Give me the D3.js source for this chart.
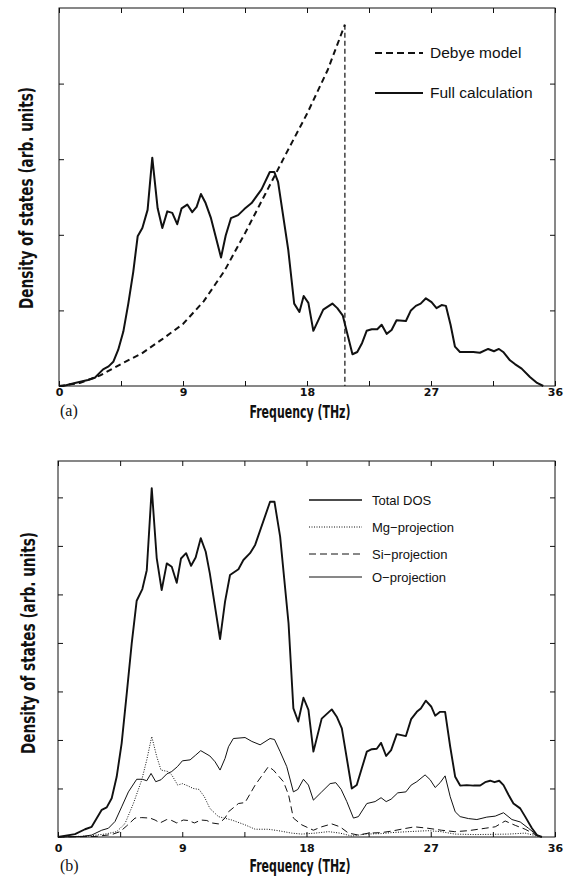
<!DOCTYPE html>
<html>
<head>
<meta charset="utf-8">
<script src="https://cdn.jsdelivr.net/npm/d3@7"></script>
<style>
  body { margin: 0; background: #fff; }
  svg { display: block; }
</style>
</head>
<body>
<div id="chart"></div>
<script>
"use strict";

// ---- data (frequency in THz, DOS in arb. units) ----
var freqTicks = [0, 4.5, 9, 13.5, 18, 22.5, 27, 31.5, 36];
var freqLabels = [0, 9, 18, 27, 36];

// panel (a)
var debyeModel = [[0, 0], [1.5, 0.04], [3, 0.14], [4.5, 0.29], [6, 0.43], [7.5, 0.62],
    [9, 0.82], [10.5, 1.12], [12, 1.52], [13.5, 2.02], [15, 2.55], [16.5, 3.08],
    [18, 3.6], [19.5, 4.18], [20.75, 4.78]];
var debyeCutoff = 20.75;

var fullCalc = [[0, 0], [0.3, 0], [1.16, 0.04], [2.1, 0.08], [2.6, 0.11], [3.2, 0.22],
    [3.6, 0.26], [3.94, 0.32], [4.3, 0.48], [4.67, 0.72], [5.03, 1.09], [5.39, 1.51],
    [5.71, 1.98], [6.05, 2.09], [6.43, 2.33], [6.77, 3.02], [7.16, 2.35], [7.5, 2.09],
    [7.86, 2.31], [8.22, 2.29], [8.58, 2.14], [8.9, 2.35], [9.31, 2.40], [9.67, 2.30],
    [9.99, 2.37], [10.3, 2.54], [10.64, 2.42], [11.03, 2.22], [11.76, 1.70], [12.1, 1.99],
    [12.48, 2.22], [13.0, 2.26], [13.45, 2.34], [13.98, 2.42], [14.7, 2.60], [15.3, 2.83],
    [15.63, 2.83], [15.9, 2.70], [16.64, 1.80], [17.07, 1.09], [17.45, 0.98], [17.76, 1.19],
    [18.1, 1.10], [18.46, 0.73], [19.18, 1.01], [19.84, 1.09], [20.2, 1.03], [20.6, 0.93],
    [21.3, 0.42], [21.65, 0.45], [22.0, 0.57], [22.33, 0.73], [22.7, 0.75], [23.1, 0.75],
    [23.42, 0.81], [23.78, 0.69], [24.14, 0.74], [24.5, 0.87], [25.18, 0.86], [25.54, 1.0],
    [25.9, 1.06], [26.25, 1.09], [26.63, 1.16], [27.04, 1.11], [27.4, 1.03], [27.77, 1.07],
    [28.08, 1.06], [28.42, 0.81], [28.74, 0.52], [29.1, 0.45], [29.6, 0.45], [30.07, 0.45],
    [30.55, 0.44], [31.15, 0.49], [31.57, 0.46], [31.93, 0.49], [32.24, 0.45], [32.73, 0.34],
    [33.09, 0.29], [33.58, 0.23], [34.18, 0.12], [34.7, 0.04], [35.15, 0]];

var legendA = ["Debye model", "Full calculation"];

// panel (b)
var totalDos = [[0, 0], [1.23, 0.06], [1.96, 0.16], [2.44, 0.21], [3.17, 0.56], [3.53, 0.61],
    [3.89, 0.80], [4.25, 1.24], [4.61, 1.93], [4.98, 2.96], [5.34, 3.99], [5.7, 4.87],
    [6.11, 5.11], [6.43, 5.5], [6.79, 7.19], [7.15, 5.75], [7.51, 5.09], [7.88, 5.64],
    [8.24, 5.57], [8.6, 5.24], [8.91, 5.74], [9.28, 5.85], [9.64, 5.59], [9.97, 5.76],
    [10.34, 6.16], [10.7, 5.88], [11.0, 5.43], [11.74, 4.08], [12.1, 4.85], [12.46, 5.4],
    [13.07, 5.52], [13.43, 5.71], [13.91, 5.85], [14.28, 6.02], [15.36, 6.91], [15.68, 6.91],
    [16.09, 6.19], [16.7, 4.4], [17.05, 2.65], [17.4, 2.38], [17.78, 2.87], [18.14, 2.62],
    [18.5, 1.76], [19.1, 2.44], [19.83, 2.63], [20.19, 2.48], [20.56, 2.24], [21.28, 1.0],
    [21.64, 1.07], [22.0, 1.41], [22.37, 1.76], [22.73, 1.81], [23.09, 1.82], [23.4, 1.94],
    [23.77, 1.67], [24.13, 1.79], [24.54, 2.12], [25.2, 2.08], [25.58, 2.43], [25.99, 2.58],
    [26.28, 2.65], [26.64, 2.81], [27.03, 2.69], [27.32, 2.5], [27.68, 2.58], [28.04, 2.58],
    [28.41, 1.86], [28.77, 1.24], [29.13, 1.06], [29.61, 1.07], [30.1, 1.06], [30.58, 1.06],
    [30.94, 1.13], [31.3, 1.16], [31.62, 1.13], [31.96, 1.16], [32.27, 1.07], [32.63, 0.87],
    [32.99, 0.69], [33.48, 0.59], [33.84, 0.42], [34.33, 0.18], [34.69, 0.04], [35.05, 0]];

var mgProj = [[0, 0], [2.2, 0.02], [3.41, 0.06], [4.25, 0.11], [4.86, 0.28], [5.46, 0.69],
    [6.07, 1.18], [6.43, 1.59], [6.79, 2.07], [7.15, 1.66], [7.46, 1.38], [7.95, 1.35],
    [8.24, 1.28], [8.67, 1.07], [9.01, 1.1], [9.44, 1.05], [9.8, 1.0], [10.22, 0.98],
    [10.6, 0.83], [11.0, 0.59], [11.62, 0.42], [12.59, 0.35], [13.55, 0.25], [14.28, 0.16],
    [15.24, 0.16], [15.96, 0.13], [16.93, 0.08], [17.66, 0.06], [18.62, 0.08], [19.59, 0.11],
    [20.43, 0.08], [21.28, 0.02], [22.25, 0.06], [23.4, 0.07], [24.14, 0.09], [25.35, 0.11],
    [26.8, 0.13], [27.77, 0.11], [28.74, 0.06], [30.2, 0.05], [32.63, 0.06], [33.84, 0.08],
    [34.69, 0.02], [35.05, 0]];

var siProj = [[0, 0], [2.68, 0.01], [3.89, 0.05], [4.49, 0.11], [4.98, 0.23], [5.58, 0.39],
    [6.07, 0.4], [6.67, 0.39], [7.03, 0.35], [7.39, 0.29], [7.88, 0.36], [8.24, 0.34],
    [8.6, 0.29], [9.08, 0.35], [9.44, 0.34], [9.88, 0.29], [10.36, 0.35], [10.78, 0.34],
    [11.14, 0.29], [11.62, 0.27], [12.1, 0.39], [12.35, 0.52], [13.07, 0.69], [13.55, 0.71],
    [14.28, 1.07], [15.24, 1.45], [15.6, 1.38], [16.33, 1.14], [16.7, 0.87], [17.05, 0.39],
    [17.66, 0.25], [18.5, 0.14], [19.1, 0.21], [19.83, 0.27], [20.43, 0.21], [21.04, 0.08],
    [21.76, 0.04], [22.49, 0.08], [23.4, 0.09], [24.14, 0.12], [24.86, 0.16], [25.83, 0.21],
    [26.8, 0.18], [27.77, 0.14], [28.74, 0.11], [29.71, 0.13], [30.94, 0.18], [31.67, 0.21],
    [32.39, 0.33], [33.12, 0.24], [33.84, 0.16], [34.69, 0.03], [35.05, 0]];

var oProj = [[0, 0], [1.7, 0.01], [2.44, 0.04], [3.17, 0.14], [3.65, 0.18], [4.13, 0.32],
    [4.61, 0.62], [5.1, 0.93], [5.7, 1.19], [6.11, 1.19], [6.43, 1.16], [6.74, 1.31],
    [7.08, 1.14], [7.46, 1.18], [7.88, 1.3], [8.24, 1.35], [8.65, 1.45], [9.01, 1.57],
    [9.57, 1.59], [9.98, 1.69], [10.34, 1.78], [11.0, 1.67], [11.38, 1.55], [11.74, 1.38],
    [12.1, 1.62], [12.35, 1.86], [12.7, 2.03], [13.55, 2.05], [14.04, 1.97], [14.64, 1.9],
    [15.36, 2.03], [15.68, 2.01], [16.09, 1.76], [16.57, 1.45], [17.05, 0.93], [17.37, 0.98],
    [17.78, 1.19], [18.14, 1.07], [18.5, 0.76], [19.1, 0.93], [19.71, 1.1], [20.12, 1.12],
    [20.51, 0.98], [20.92, 0.73], [21.4, 0.39], [21.76, 0.42], [22.37, 0.69], [22.97, 0.73],
    [23.4, 0.81], [23.77, 0.73], [24.13, 0.78], [24.61, 0.91], [25.2, 0.93], [25.58, 1.07],
    [25.99, 1.14], [26.59, 1.28], [26.96, 1.18], [27.32, 1.02], [27.68, 1.12], [28.04, 1.26],
    [28.41, 0.83], [28.77, 0.52], [29.13, 0.42], [29.73, 0.38], [30.34, 0.36], [31.06, 0.41],
    [31.67, 0.43], [32.27, 0.5], [32.88, 0.36], [33.48, 0.31], [34.08, 0.18], [34.69, 0.04],
    [35.05, 0]];

var legendB = ["Total DOS", "Mg\u2212projection", "Si\u2212projection", "O\u2212projection"];

// ---- drawing ----
var W = 565, H = 882;
var ink = "#111";
var boldNarrow = "'Liberation Sans Narrow', 'DejaVu Sans Condensed', 'Arial Narrow', sans-serif";
var tickFont = "'DejaVu Sans', sans-serif";

var svg = d3.select("#chart").append("svg")
    .attr("width", W)
    .attr("height", H);

svg.append("rect").attr("width", W).attr("height", H).attr("fill", "#fff");

function panel(spec) {
    var x = d3.scaleLinear().domain([0, 36]).range([spec.left, spec.right]);
    var y = d3.scaleLinear().domain([0, spec.ymax]).range([spec.bottom, spec.top]);
    var yTicks = d3.range(1, Math.floor(spec.ymax) + 1).filter(function (v) { return v < spec.ymax; });
    var g = svg.append("g");

    // inward ticks on all four sides
    var fmt = function (d) { return freqLabels.indexOf(d) >= 0 ? d : ""; };
    var ax = [
        d3.axisBottom(x).tickValues(freqTicks).tickSize(-5).tickPadding(spec.tickPad).tickFormat(fmt),
        d3.axisTop(x).tickValues(freqTicks).tickSize(-5).tickFormat(""),
        d3.axisLeft(y).tickValues(yTicks).tickSize(-5).tickFormat(""),
        d3.axisRight(y).tickValues(yTicks).tickSize(-5).tickFormat("")
    ];
    var pos = ["translate(0," + spec.bottom + ")", "translate(0," + spec.top + ")",
        "translate(" + spec.left + ",0)", "translate(" + spec.right + ",0)"];
    ax.forEach(function (a, i) {
        var ag = g.append("g").attr("transform", pos[i]).call(a);
        ag.select(".domain").remove();
        ag.selectAll("line").attr("stroke", ink).attr("stroke-width", 1);
        ag.selectAll("text")
            .attr("fill", ink)
            .style("font-family", tickFont)
            .style("font-weight", "bold")
            .style("font-size", "11px");
    });

    g.append("rect")
        .attr("x", spec.left).attr("y", spec.top)
        .attr("width", spec.right - spec.left)
        .attr("height", spec.bottom - spec.top)
        .attr("fill", "none")
        .attr("stroke", ink)
        .attr("stroke-width", 1);

    // axis titles
    g.append("text")
        .attr("x", 300).attr("y", spec.xTitleY)
        .attr("text-anchor", "middle")
        .attr("textLength", 101).attr("lengthAdjust", "spacingAndGlyphs")
        .style("font-family", boldNarrow).style("font-weight", "bold").style("font-size", "17px")
        .attr("fill", ink)
        .text("Frequency (THz)");

    g.append("text")
        .attr("transform", "translate(" + spec.yTitleX + "," + spec.yTitleMid + ") rotate(-90)")
        .attr("text-anchor", "middle")
        .attr("textLength", 222).attr("lengthAdjust", "spacingAndGlyphs")
        .style("font-family", boldNarrow).style("font-weight", "bold").style("font-size", "19px")
        .attr("fill", ink)
        .text("Density of states (arb. units)");

    g.append("text")
        .attr("x", 60).attr("y", spec.tagY)
        .style("font-family", "'Liberation Serif', 'DejaVu Serif', serif")
        .style("font-size", "16px")
        .attr("fill", ink)
        .text(spec.tag);

    var line = d3.line()
        .x(function (d) { return x(d[0]); })
        .y(function (d) { return y(d[1]); });

    return { g: g, x: x, y: y, line: line };
}

// (a)
var pa = panel({ left: 59, right: 555, top: 8, bottom: 386, ymax: 5, tickPad: 2,
    xTitleY: 418, yTitleX: 33, yTitleMid: 198, tagY: 416, tag: "(a)" });

pa.g.append("path")
    .datum(debyeModel)
    .attr("d", pa.line)
    .attr("fill", "none").attr("stroke", ink)
    .attr("stroke-width", 2).attr("stroke-dasharray", "6,4");

pa.g.append("line")
    .attr("x1", pa.x(debyeCutoff)).attr("x2", pa.x(debyeCutoff))
    .attr("y1", pa.y(debyeModel[debyeModel.length - 1][1])).attr("y2", pa.y(0))
    .attr("stroke", ink).attr("stroke-width", 1.2).attr("stroke-dasharray", "5,3");

pa.g.append("path")
    .datum(fullCalc)
    .attr("d", pa.line)
    .attr("fill", "none").attr("stroke", ink)
    .attr("stroke-width", 2).attr("stroke-linejoin", "round");

var legA = pa.g.selectAll(".leg").data(legendA).enter().append("g")
    .attr("transform", function (d, i) { return "translate(375," + (53 + i * 40) + ")"; });
legA.append("line")
    .attr("x1", 0).attr("x2", 48).attr("y1", 0).attr("y2", 0)
    .attr("stroke", ink).attr("stroke-width", 2)
    .attr("stroke-dasharray", function (d, i) { return i === 0 ? "7,4" : null; });
legA.append("text")
    .attr("x", 55).attr("y", 5)
    .style("font-family", "'Liberation Sans', Arial, sans-serif").style("font-size", "15.5px")
    .attr("fill", ink)
    .text(function (d) { return d; });

// (b)
var pb = panel({ left: 58, right: 555, top: 461, bottom: 837, ymax: 7.75, tickPad: 7,
    xTitleY: 872, yTitleX: 35, yTitleMid: 643, tagY: 871, tag: "(b)" });

var seriesB = [
    { data: totalDos, width: 1.9, dash: null },
    { data: mgProj, width: 1, dash: "1,1.5" },
    { data: siProj, width: 1, dash: "7,4" },
    { data: oProj, width: 1, dash: null }
];

pb.g.selectAll(".dos").data(seriesB).enter().append("path")
    .attr("d", function (s) { return pb.line(s.data); })
    .attr("fill", "none").attr("stroke", ink)
    .attr("stroke-width", function (s) { return s.width; })
    .attr("stroke-dasharray", function (s) { return s.dash; })
    .attr("stroke-linejoin", "round");

var legB = pb.g.selectAll(".leg").data(legendB).enter().append("g")
    .attr("transform", function (d, i) { return "translate(309," + [500, 527, 554, 577][i] + ")"; });
legB.append("line")
    .attr("x1", 0).attr("x2", 53).attr("y1", 0).attr("y2", 0)
    .attr("stroke", ink)
    .attr("stroke-width", function (d, i) { return seriesB[i].width === 1 ? 1 : 1.5; })
    .attr("stroke-dasharray", function (d, i) { return seriesB[i].dash; });
legB.append("text")
    .attr("x", 63).attr("y", 4.5)
    .style("font-family", "'Liberation Sans', Arial, sans-serif").style("font-size", "13px")
    .attr("fill", ink)
    .text(function (d) { return d; });
</script>
</body>
</html>
